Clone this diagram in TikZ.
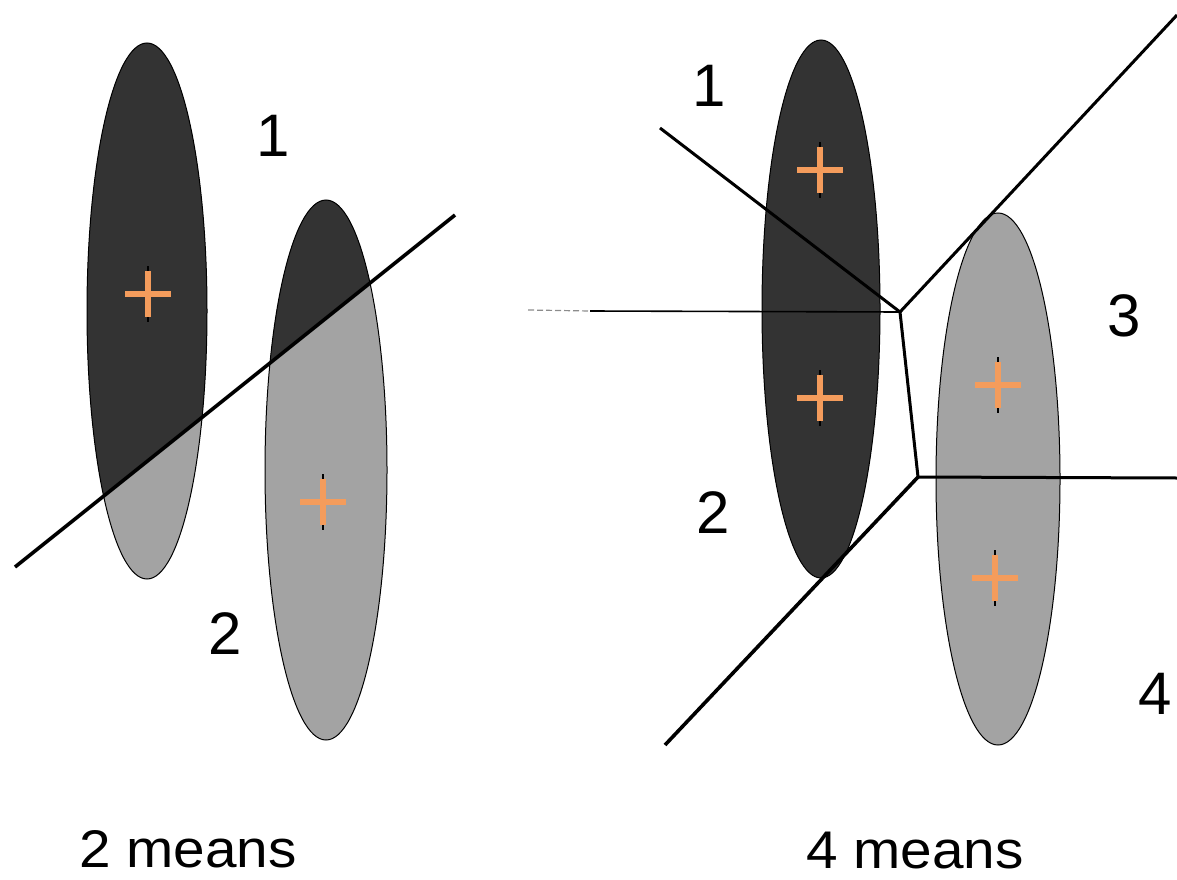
\documentclass[tikz,border=0pt]{standalone}
\usepackage{fontspec}
\setmainfont{Liberation Sans}
\definecolor{orangec}{RGB}{244,156,92}
\begin{document}
\begin{tikzpicture}[x=1pt,y=-1pt,
  dark/.style={fill=black!80},
  light/.style={fill=black!36},
  rim/.style={draw=black,line width=1pt},
  cut/.style={draw=black,line width=3.6pt},
  cutmid/.style={draw=black,line width=3pt},
  cutthin/.style={draw=black,line width=1.6pt},
  centroid/.style={draw=orangec,line width=6pt},
  tick/.style={draw=black,line width=1.5pt},
  lbl/.style={font=\fontsize{60}{66}\selectfont,inner sep=0pt},
  capt/.style={font=\fontsize{53}{60}\selectfont,inner sep=0pt,xscale=1.07},
  cplus/.pic={\draw[tick] (0,-28)--(0,28); \draw[centroid] (-23,0)--(23,0) (0,-23)--(0,23);}]
\useasboundingbox (0,0) rectangle (1177,880);
% ---------- left panel: 2 means ----------
\coordinate (L1) at (15,567);
\coordinate (L2) at (455,215);
\fill[light] (147,311) ellipse [x radius=60pt,y radius=268pt];
\fill[light] (326,470) ellipse [x radius=61pt,y radius=270pt];
\begin{scope}
  \clip (0,579) -- (500,179) -- (500,0) -- (0,0) -- cycle;
  \fill[dark] (147,311) ellipse [x radius=60pt,y radius=268pt];
  \fill[dark] (326,470) ellipse [x radius=61pt,y radius=270pt];
\end{scope}
\draw[rim] (147,311) ellipse [x radius=60pt,y radius=268pt];
\draw[rim] (326,470) ellipse [x radius=61pt,y radius=270pt];
\draw[cut] (L1) -- (L2);
\pic at (148,294) {cplus};
\pic at (323,502) {cplus};
\node[lbl] (a1) at (273,136) {1};
\node[lbl] (a2) at (225,634) {2};
\node[capt] (capL) at (188,849) {2 means};
% ---------- right panel: 4 means ----------
\fill[dark] (821,309) ellipse [x radius=59pt,y radius=269pt];
\fill[light] (998,479) ellipse [x radius=62pt,y radius=266pt];
\draw[rim] (821,309) ellipse [x radius=59pt,y radius=269pt];
\draw[rim] (998,479) ellipse [x radius=62pt,y radius=266pt];
\coordinate (P) at (900,312);
\coordinate (Q) at (918,477);
\coordinate (R1) at (660,128);
\coordinate (R2) at (1177,15);
\coordinate (R3) at (590,311);
\coordinate (R3f) at (528,310);
\coordinate (R4) at (1177,478);
\coordinate (R5) at (665,745);
\draw[cutmid] (R1) -- (P);
\draw[cutmid] (P) -- (R2);
\draw[cutthin] (R3) -- (P);
\draw[black!45,line width=1.2pt,dash pattern=on 6pt off 3pt] (R3f) -- (R3);
\draw[cutmid] (P) -- (Q);
\draw[cutmid] (Q) -- (R4);
\draw[cut] (Q) -- (R5);
\pic at (820,170) {cplus};
\pic at (820,398) {cplus};
\pic at (998,385) {cplus};
\pic at (995,578) {cplus};
\node[lbl] (b1) at (709,86) {1};
\node[lbl] (b2) at (713,513) {2};
\node[lbl] (b3) at (1124,316) {3};
\node[lbl] (b4) at (1155,694) {4};
\node[capt] (capR) at (915,851) {4 means};
\end{tikzpicture}
\end{document}
